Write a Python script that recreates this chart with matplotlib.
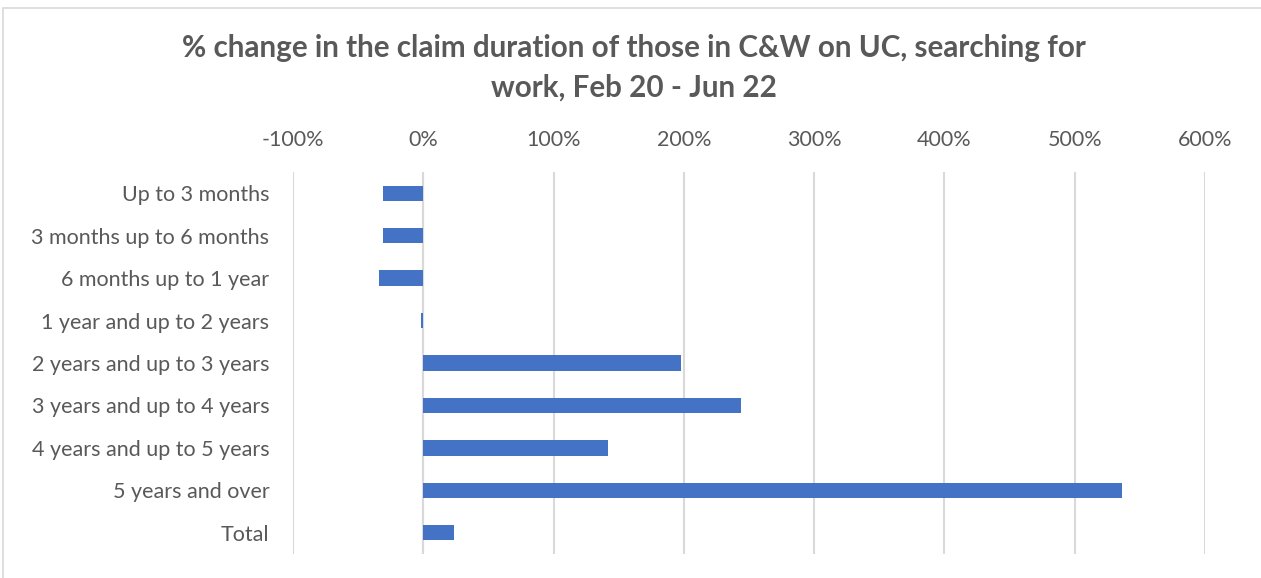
import matplotlib.pyplot as plt
from matplotlib.patches import Rectangle
from matplotlib.ticker import FuncFormatter

categories = ['Up to 3 months', '3 months up to 6 months', '6 months up to 1 year',
              '1 year and up to 2 years', '2 years and up to 3 years',
              '3 years and up to 4 years', '4 years and up to 5 years',
              '5 years and over', 'Total']
pct_change = [-31, -31, -34, -1.5, 198, 244, 142, 536, 23.5]

plt.rcParams['font.family'] = ['Lato', 'DejaVu Sans']
grey = '#595959'

fig = plt.figure(figsize=(12.61, 5.78), dpi=100, facecolor='white')
ax = fig.add_axes([0.2324, 0.0415, 0.7232, 0.661])

y = range(len(categories))
ax.barh(y, pct_change, height=0.36, color='#4472c4', zorder=3)

ax.set_xlim(-100, 600)
ax.set_ylim(len(categories) - 0.5, -0.5)
ax.set_xticks(range(-100, 601, 100))
ax.xaxis.set_major_formatter(FuncFormatter(lambda v, p: f'{v:.0f}%'))
ax.xaxis.tick_top()
ax.set_yticks(list(y))
ax.set_yticklabels(categories)
ax.tick_params(axis='both', length=0, labelsize=15.5, labelcolor=grey)
ax.tick_params(axis='x', pad=16)
ax.tick_params(axis='y', pad=17)

ax.grid(axis='x', color='#d9d9d9', linewidth=1.5, zorder=0)
for s in ax.spines.values():
    s.set_visible(False)
ax.axvline(0, color='#d9d9d9', linewidth=1.5, zorder=1)

fig.text(0.503, 0.883, '% change in the claim duration of those in C&W on UC, searching for\nwork, Feb 20 - Jun 22',
         ha='center', va='center', fontsize=21.3, fontweight='bold', color=grey, linespacing=1.5)

# chart frame
fig.patches.append(Rectangle((3 / 1261, -0.1), 1.2, (578 - 8) / 578 + 0.1, transform=fig.transFigure,
                             fill=False, edgecolor='#d9d9d9', linewidth=1.2))

fig.savefig('out.png', dpi=100, facecolor='white')
